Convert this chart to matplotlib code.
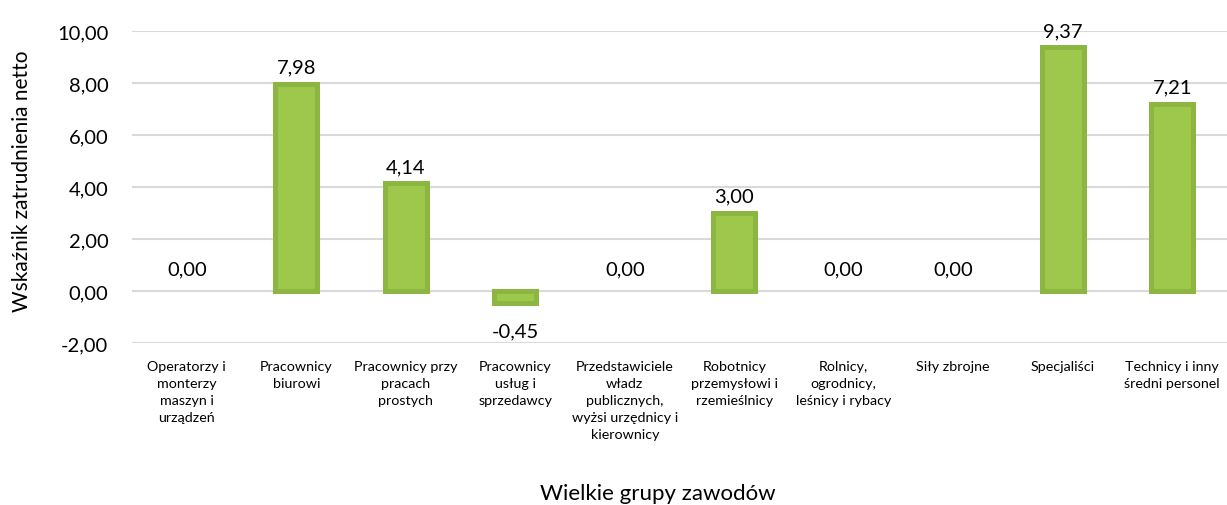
import matplotlib.pyplot as plt
from matplotlib.ticker import FuncFormatter

plt.rcParams['font.family'] = ['Lato', 'DejaVu Sans']

# Data
categories = [
    'Operatorzy i\nmonterzy\nmaszyn i\nurządzeń',
    'Pracownicy\nbiurowi',
    'Pracownicy przy\npracach\nprostych',
    'Pracownicy\nusług i\nsprzedawcy',
    'Przedstawiciele\nwładz\npublicznych,\nwyżsi urzędnicy i\nkierownicy',
    'Robotnicy\nprzemysłowi i\nrzemieślnicy',
    'Rolnicy,\nogrodnicy,\nleśnicy i rybacy',
    'Siły zbrojne',
    'Specjaliści',
    'Technicy i inny\nśredni personel',
]
values = [0.00, 7.98, 4.14, -0.45, 0.00, 3.00, 0.00, 0.00, 9.37, 7.21]
y_ticks = [-2, 0, 2, 4, 6, 8, 10]

fig = plt.figure(figsize=(12.27, 5.06), dpi=100)
ax = fig.add_axes([132 / 1227, 1 - 344 / 506, 1 - 132 / 1227, (344 - 32) / 506])

x = range(len(categories))
# zero-height bars have no visible outline in the original
widths = [3.6 if v != 0 else 0 for v in values]
ax.bar(x, values, width=0.38, color='#9DC84B', edgecolor='#8DB542',
       linewidth=widths, zorder=3)

# Data labels
for i, v in enumerate(values):
    txt = f'{v:.2f}'.replace('.', ',')
    if v > 0:
        ax.annotate(txt, (i, v), xytext=(0, 6), textcoords='offset points',
                    ha='center', va='bottom', fontsize=14.5)
    elif v < 0:
        ax.annotate(txt, (i, v), xytext=(0, -14), textcoords='offset points',
                    ha='center', va='top', fontsize=14.5)
    else:
        ax.annotate(txt, (i, v), xytext=(0, 10), textcoords='offset points',
                    ha='center', va='bottom', fontsize=14.5)

ax.set_xlim(-0.5, len(categories) - 0.5)
ax.set_ylim(-2, 10)
ax.set_yticks(y_ticks)
ax.yaxis.set_major_formatter(FuncFormatter(lambda v, p: f'{v:.2f}'.replace('.', ',')))
ax.set_xticks(list(x))
ax.set_xticklabels(categories, fontsize=10.3, linespacing=1.5, va='top')
ax.tick_params(axis='x', length=0, pad=12)
ax.tick_params(axis='y', length=0, pad=17, labelsize=14.5)

ax.grid(axis='y', color='#D9D9D9', linewidth=1.5, zorder=0)
for s in ax.spines.values():
    s.set_visible(False)

fig.text(658 / 1227, 1 - 494 / 506, 'Wielkie grupy zawodów', ha='center',
         va='center', fontsize=16)
fig.text(22 / 1227, 1 - 181 / 506, 'Wskaźnik zatrudnienia netto', ha='center',
         va='center', rotation=90, fontsize=15)

fig.savefig('out.png', dpi=100)
